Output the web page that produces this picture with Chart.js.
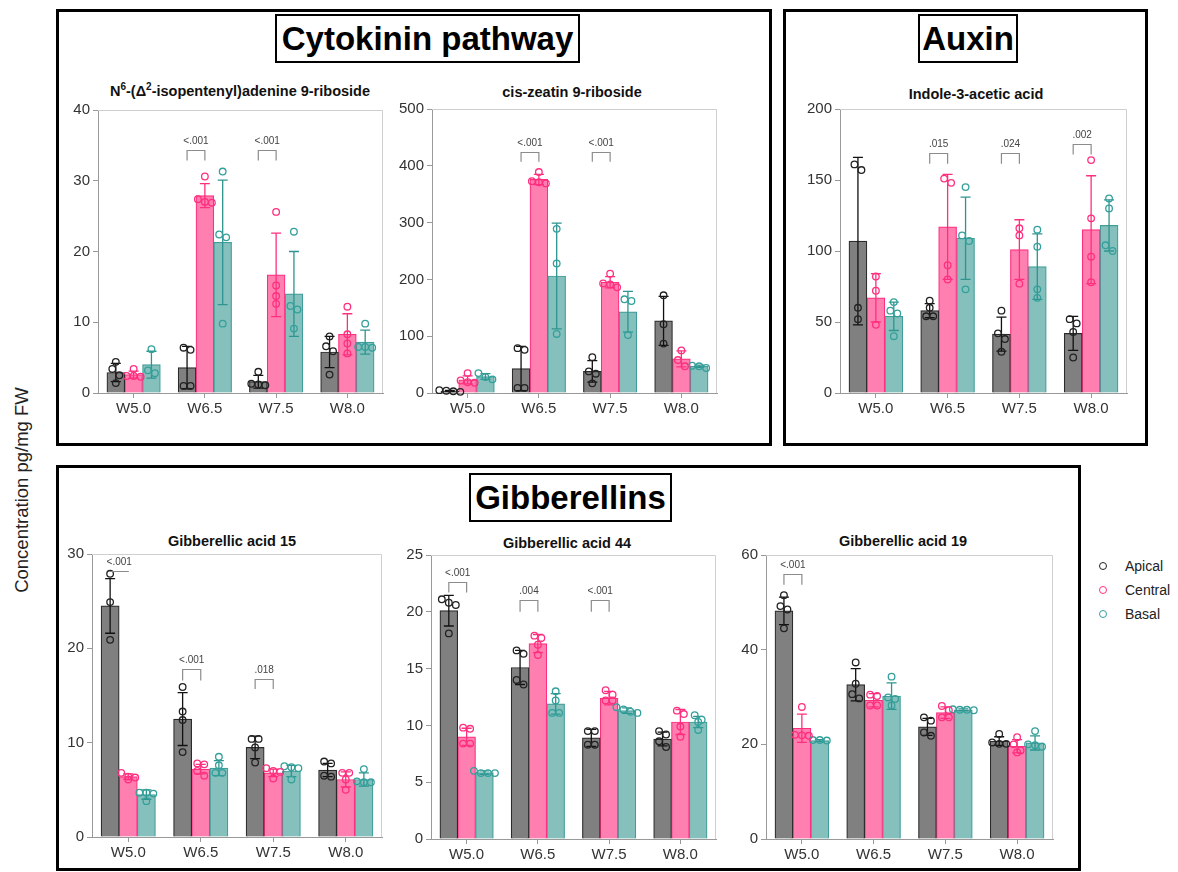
<!DOCTYPE html>
<html>
<head>
<meta charset="utf-8">
<script src="https://cdn.jsdelivr.net/npm/chart.js@4.4.1/dist/chart.umd.min.js"></script>
<style>
  html, body { margin: 0; padding: 0; background: #fff; }
  body { width: 1178px; height: 872px; position: relative; overflow: hidden;
         font-family: "Liberation Sans", Arial, sans-serif; color: #111; }
  .frame { position: absolute; border: 3px solid #000; box-sizing: border-box; }
  .head { position: absolute; border: 2px solid #000; box-sizing: border-box; font-weight: bold;
          font-size: 33px; display: flex; align-items: center; justify-content: center; color: #000; }
  .ptitle { position: absolute; width: 400px; font-weight: bold; font-size: 14.5px; line-height: 1;
            text-align: center; white-space: nowrap; color: #111; }
  .ptitle sup { font-size: 10px; line-height: 0; vertical-align: 6px; }
  .cv { position: absolute; }
  #ylab { position: absolute; left: 22px; top: 490px; transform: translate(-50%, -50%) rotate(-90deg);
          font-size: 18.5px; white-space: nowrap; color: #222; }
  .leg { position: absolute; left: 1099px; font-size: 14px; color: #222; height: 16px; line-height: 16px; }
  .leg i { position: absolute; left: 0; top: 4px; width: 6px; height: 6px; border-radius: 50%;
           border: 1.3px solid; box-sizing: content-box; }
  .leg span { position: absolute; left: 26px; top: 0; white-space: nowrap; }
</style>
</head>
<body>

<div class="frame" style="left:56px;top:9px;width:716px;height:437px;"></div>
<div class="frame" style="left:783px;top:9px;width:365px;height:437px;"></div>
<div class="frame" style="left:56px;top:465px;width:1025px;height:406px;"></div>

<div class="head" style="left:275px;top:14px;width:305px;height:49px;">Cytokinin pathway</div>
<div class="head" style="left:918px;top:14px;width:100px;height:49px;">Auxin</div>
<div class="head" style="left:469px;top:473px;width:203px;height:49px;">Gibberellins</div>

<div class="ptitle" style="left:40px;top:84px;">N<sup>6</sup>-(Δ<sup>2</sup>-isopentenyl)adenine 9-riboside</div>
<div class="ptitle" style="left:372px;top:85px;">cis-zeatin 9-riboside</div>
<div class="ptitle" style="left:776px;top:87px;">Indole-3-acetic acid</div>
<div class="ptitle" style="left:32px;top:534px;">Gibberellic acid 15</div>
<div class="ptitle" style="left:367px;top:536px;">Gibberellic acid 44</div>
<div class="ptitle" style="left:703px;top:534px;">Gibberellic acid 19</div>

<div id="ylab">Concentration pg/mg FW</div>

<div class="leg" style="top:558px;"><i style="border-color:#222;"></i><span>Apical</span></div>
<div class="leg" style="top:582px;"><i style="border-color:#ff2f7f;"></i><span>Central</span></div>
<div class="leg" style="top:606px;"><i style="border-color:#34a09b;"></i><span>Basal</span></div>

<script>
// ---- categories ----
const weeks = ['W5.0', 'W6.5', 'W7.5', 'W8.0'];
const regions = ['Apical', 'Central', 'Basal'];

// ---- N6-(Δ2-isopentenyl)adenine 9-riboside (pg/mg FW) ----
// rows: Apical, Central, Basal; columns: weeks
const iprMean = [[2.9, 3.6, 1.6, 5.8], [2.6, 27.9, 16.7, 8.3], [4.0, 21.3, 14.0, 7.2]];
const iprSD   = [[1.3, 3.0, 0.9, 2.2], [0.5, 1.7, 5.9, 2.9], [1.9, 8.8, 6.0, 1.7]];
const iprPts  = [
  [[4.4, 3.4, 2.5, 1.4], [6.1, 6.4, 1.0, 1.0], [3.0, 1.3, 1.2, 1.1], [8.0, 6.6, 5.9, 2.6]],
  [[3.4, 2.4, 2.3, 2.4], [30.6, 27.4, 26.9, 27.0], [25.6, 15.2, 13.7, 12.6], [12.2, 8.3, 7.0, 5.6]],
  [[6.2, 3.2, 2.8], [31.3, 22.4, 22.0, 9.8], [22.8, 12.3, 11.8, 9.1], [9.8, 6.5, 6.4, 6.5]]
];
const iprSig    = [null, '<.001', '<.001', null];
const iprSigTop = [null, 34.4, 34.4, null];
const iprSigBot = [null, 32.85, 32.85, null];

// ---- cis-zeatin 9-riboside ----
const czrMean = [[3.5, 43, 38, 127], [23, 376, 195, 60], [29, 206, 143, 47]];
const czrSD   = [[1.2, 39, 19, 43], [7, 9, 10, 14], [5, 93, 36, 2]];
const czrPts  = [
  [[2, 3, 4, 5], [79, 76, 9, 9], [63, 38, 34, 17], [172, 121, 87]],
  [[35, 22, 18, 19], [389, 371, 369, 373], [210, 186, 191, 193], [75, 58, 47]],
  [[35, 28, 24], [289, 228, 104], [165, 162, 102], [44, 48, 47]]
];
const czrSig    = [null, '<.001', '<.001', null];
const czrSigTop = [null, 424, 424, null];
const czrSigBot = [null, 407, 407, null];

// ---- Indole-3-acetic acid ----
const iaaMean = [[107, 58, 41.5, 42], [67, 117, 101, 115], [54, 109, 89, 118]];
const iaaSD   = [[59, 5, 12, 12], [17, 37, 21, 38], [10, 29, 23, 18]];
const iaaPts  = [
  [[161, 157, 60, 52], [65, 60, 54, 54], [58, 42, 38, 29], [49, 52, 43, 25]],
  [[82, 72, 48], [148, 151, 90, 80], [116, 111, 77], [164, 123, 96, 78]],
  [[64, 58, 56, 40], [145, 111, 107, 73], [115, 103, 73, 67], [137, 130, 104, 100]]
];
const iaaSig    = [null, '.015', '.024', '.002'];
const iaaSigTop = [null, 169, 169, 175.5];
const iaaSigBot = [null, 161.5, 161.5, 168];

// ---- Gibberellic acid 15 ----
const ga15Mean = [[24.5, 12.5, 9.5, 7.1], [6.4, 7.2, 6.8, 6.1], [4.5, 7.3, 7.0, 6.1]];
const ga15SD   = [[2.9, 2.8, 1.2, 0.7], [0.3, 0.5, 0.4, 0.8], [0.5, 0.8, 0.6, 0.7]];
const ga15Pts  = [
  [[27.9, 24.9, 20.9], [15.9, 13.3, 12.4, 9.0], [10.4, 10.4, 9.5, 7.9], [7.8, 8.0, 6.4, 6.5]],
  [[6.8, 6.4, 6.3, 6.1], [7.8, 7.7, 7.0, 6.5], [7.3, 7.0, 6.9, 6.2], [6.8, 6.8, 6.1, 5.0]],
  [[4.7, 4.7, 4.6, 3.8], [8.5, 7.6, 6.8, 6.8], [7.5, 7.4, 7.3, 6.1], [7.2, 5.8, 5.8, 5.9]]
];
const ga15Sig    = ['<.001', '<.001', '.018', null];
const ga15SigTop = [28.2, 17.8, 16.8, null];
const ga15SigBot = [28.2, 16.6, 15.7, null];

// ---- Gibberellic acid 44 ----
const ga44Mean = [[20.1, 15.1, 8.9, 8.8], [9.0, 17.2, 12.4, 10.3], [5.85, 11.9, 11.3, 10.3]];
const ga44SD   = [[1.35, 1.5, 0.75, 0.6], [0.75, 0.8, 0.6, 1.1], [0.15, 0.9, 0.25, 0.5]];
const ga44Pts  = [
  [[20.8, 21.1, 20.6, 18.1], [16.3, 16.6, 14.0, 13.6], [9.5, 9.5, 8.3, 8.3], [9.2, 9.5, 8.6, 8.1]],
  [[9.7, 9.8, 8.4, 8.4], [17.9, 17.7, 17.1, 16.2], [12.7, 13.1, 12.2, 12.2], [11.0, 11.3, 9.9, 9.0]],
  [[6.0, 5.8, 5.8, 5.8], [13.0, 12.2, 11.1, 11.1], [11.6, 11.4, 11.2, 11.1], [10.9, 10.5, 10.3, 9.6]]
];
const ga44Sig    = ['<.001', '.004', '<.001', null];
const ga44SigTop = [22.6, 21.0, 21.0, null];
const ga44SigBot = [21.7, 20.0, 20.0, null];

// ---- Gibberellic acid 19 ----
const ga19Mean = [[48.2, 32.6, 23.7, 20.7], [23.4, 29.3, 26.7, 19.6], [20.8, 30.2, 27.3, 20.3]];
const ga19SD   = [[2.9, 3.4, 1.8, 0.9], [3.0, 1.4, 1.2, 1.4], [0.2, 2.8, 0.2, 1.5]];
const ga19Pts  = [
  [[51.5, 49.2, 48.5, 44.5], [37.3, 32.8, 30.6, 29.7], [25.0, 25.7, 22.5, 21.8], [22.2, 20.1, 20.1, 20.4]],
  [[27.9, 21.8, 22.0, 21.9], [30.2, 30.5, 28.2, 28.2], [27.2, 28.1, 25.7, 25.7], [21.5, 20.0, 18.3, 18.7]],
  [[20.9, 20.8, 20.9], [34.3, 29.9, 28.2, 29.6], [27.3, 27.4, 27.3, 27.2], [22.8, 19.5, 20.0, 19.8]]
];
const ga19Sig    = ['<.001', null, null, null];
const ga19SigTop = [56.0, null, null, null];
const ga19SigBot = [53.7, null, null, null];

// ---- axis ranges ----
const yMax  = [40, 500, 200, 30, 25, 60];
const yStep = [10, 100, 50, 10, 5, 20];

// ---- styling ----
const FONT = '"Liberation Sans", Arial, sans-serif';
const barFill  = ['#808080', '#ff80b0', '#86c0bd'];
const barEdge  = ['#2b2b2b', '#ff2f80', '#3f9e99'];
const dotColor = ['#222222', '#ff2f7f', '#34a09b'];
const whisker  = ['#111111', '#ff2f7f', '#2e948f'];

// plot-area placement on the page: [left, top, width, height]
const panels = [
  { mean: iprMean,  sd: iprSD,  pts: iprPts,  sig: iprSig,  top: iprSigTop,  bot: iprSigBot,  area: [98, 108, 285, 285] },
  { mean: czrMean,  sd: czrSD,  pts: czrPts,  sig: czrSig,  top: czrSigTop,  bot: czrSigBot,  area: [432, 107, 285, 286] },
  { mean: iaaMean,  sd: iaaSD,  pts: iaaPts,  sig: iaaSig,  top: iaaSigTop,  bot: iaaSigBot,  area: [840, 107, 287, 286] },
  { mean: ga15Mean, sd: ga15SD, pts: ga15Pts, sig: ga15Sig, top: ga15SigTop, bot: ga15SigBot, area: [92, 552, 290, 285] },
  { mean: ga44Mean, sd: ga44SD, pts: ga44Pts, sig: ga44Sig, top: ga44SigTop, bot: ga44SigBot, area: [431, 553, 285, 286] },
  { mean: ga19Mean, sd: ga19SD, pts: ga19Pts, sig: ga19Sig, top: ga19SigTop, bot: ga19SigBot, area: [766, 553, 287, 286] }
];

const PADT = 10, PADR = 6, YW = 44, XH = 34;
const SLOT = 0.25;                 // each region's bar takes a quarter of a week slot
const DOT_R = 3.3, ROW_GAP = 7, ROW_TOL = 6.5;

// spread replicates that sit at nearly the same height side by side (px offsets)
function swarm(vals, pxPerUnit) {
  const order = vals.map((v, i) => i).sort((a, b) => vals[b] - vals[a]);
  const off = new Array(vals.length).fill(0);
  let row = [];
  const flush = () => row.forEach((i, k) => { off[i] = (k - (row.length - 1) / 2) * ROW_GAP; });
  order.forEach(i => {
    if (row.length && (vals[row[0]] - vals[i]) * pxPerUnit >= ROW_TOL) { flush(); row = []; }
    row.push(i);
  });
  flush();
  return off;
}

// mean ± SD whiskers on top of each bar
const errorBars = {
  id: 'errorBars',
  afterDatasetDraw(chart, args) {
    const ds = chart.data.datasets[args.index];
    if (!ds.errors) return;
    const y = chart.scales.y, ctx = chart.ctx;
    ctx.save();
    ctx.strokeStyle = ds.whiskerColor;
    ctx.lineWidth = 1.3;
    args.meta.data.forEach((el, j) => {
      const m = ds.data[j].y, e = ds.errors[j];
      const x = el.x;
      const y1 = y.getPixelForValue(m + e), y2 = y.getPixelForValue(Math.max(0, m - e));
      ctx.beginPath();
      ctx.moveTo(x, y1); ctx.lineTo(x, y2);
      ctx.moveTo(x - 5, y1); ctx.lineTo(x + 5, y1);
      ctx.moveTo(x - 5, y2); ctx.lineTo(x + 5, y2);
      ctx.stroke();
    });
    ctx.restore();
  }
};

// light box around the plotting area (top and right sides)
const plotFrame = {
  id: 'plotFrame',
  beforeDatasetsDraw(chart) {
    const a = chart.chartArea, ctx = chart.ctx;
    ctx.save();
    ctx.strokeStyle = '#cfcfcf';
    ctx.lineWidth = 1;
    ctx.beginPath();
    ctx.moveTo(a.left, a.top + 0.5); ctx.lineTo(a.right - 0.5, a.top + 0.5); ctx.lineTo(a.right - 0.5, a.bottom);
    ctx.stroke();
    ctx.restore();
  }
};

// Apical vs Central comparison brackets with p-values
function brackets(p) {
  return {
    id: 'brackets',
    afterDatasetsDraw(chart) {
      const y = chart.scales.y, ctx = chart.ctx;
      const a = chart.getDatasetMeta(0).data, c = chart.getDatasetMeta(1).data;
      ctx.save();
      p.sig.forEach((label, i) => {
        if (!label) return;
        const xa = a[i].x, xc = c[i].x;
        const yt = Math.round(y.getPixelForValue(p.top[i])) + 0.5;
        const yb = y.getPixelForValue(p.bot[i]);
        ctx.strokeStyle = '#8c8c8c';
        ctx.lineWidth = 1.2;
        ctx.beginPath();
        ctx.moveTo(xa, yb); ctx.lineTo(xa, yt); ctx.lineTo(xc, yt); ctx.lineTo(xc, yb);
        ctx.stroke();
        ctx.fillStyle = '#444';
        ctx.font = '10px ' + FONT;
        ctx.textAlign = 'center';
        ctx.textBaseline = 'alphabetic';
        ctx.fillText(label, (xa + xc) / 2, yt - 7);
      });
      ctx.restore();
    }
  };
}

panels.forEach((p, n) => {
  const [L, T, W, H] = p.area;
  const cv = document.createElement('canvas');
  cv.className = 'cv';
  cv.width = W + YW + PADR;
  cv.height = H + PADT + XH;
  cv.style.left = (L - YW) + 'px';
  cv.style.top = (T - PADT) + 'px';
  document.body.appendChild(cv);

  const pxPerUnit = H / yMax[n];
  const catPx = W / weeks.length;
  const datasets = [];

  regions.forEach((r, s) => {
    datasets.push({
      type: 'bar', label: r,
      data: p.mean[s].map((m, c) => ({ x: c + (s - 1) * SLOT, y: m })),
      errors: p.sd[s], whiskerColor: whisker[s],
      backgroundColor: barFill[s], borderColor: barEdge[s], borderWidth: 1.2,
      grouped: false, barThickness: catPx * SLOT, order: 3
    });
  });

  regions.forEach((r, s) => {
    const data = [];
    p.pts[s].forEach((vals, c) => {
      const off = swarm(vals, pxPerUnit);
      vals.forEach((v, k) => data.push({ x: c + (s - 1) * SLOT + off[k] / catPx, y: v }));
    });
    datasets.push({
      type: 'scatter', label: r, data, order: 1,
      pointRadius: DOT_R, pointBorderWidth: 1.3, pointBorderColor: dotColor[s],
      pointBackgroundColor: 'rgba(0,0,0,0)', showLine: false, clip: false
    });
  });

  new Chart(cv, {
    type: 'bar',
    data: { datasets },
    options: {
      responsive: false, animation: false, devicePixelRatio: 1, events: [],
      layout: { padding: { top: PADT, right: PADR, left: 0, bottom: 0 } },
      plugins: { legend: { display: false }, tooltip: { enabled: false } },
      scales: {
        x: {
          type: 'linear', min: -0.5, max: weeks.length - 0.5, offset: false,
          afterBuildTicks: s => { s.ticks = weeks.map((w, i) => ({ value: i })); },
          grid: { display: true, drawOnChartArea: false, drawTicks: true, tickLength: 5, color: '#999', offset: false },
          border: { color: '#999', width: 1 },
          ticks: { color: '#333', font: { size: 15, family: FONT }, padding: 2, maxRotation: 0, autoSkip: false,
                   callback: v => weeks[v] },
          afterFit: s => { s.height = XH; }
        },
        y: {
          min: 0, max: yMax[n],
          ticks: { stepSize: yStep[n], color: '#333', font: { size: 15, family: FONT }, padding: 3 },
          grid: { display: true, drawOnChartArea: false, drawTicks: true, tickLength: 5, color: '#999' },
          border: { color: '#999', width: 1 },
          afterFit: s => { s.width = YW; }
        }
      }
    },
    plugins: [plotFrame, errorBars, brackets(p)]
  });
});
</script>
</body>
</html>
